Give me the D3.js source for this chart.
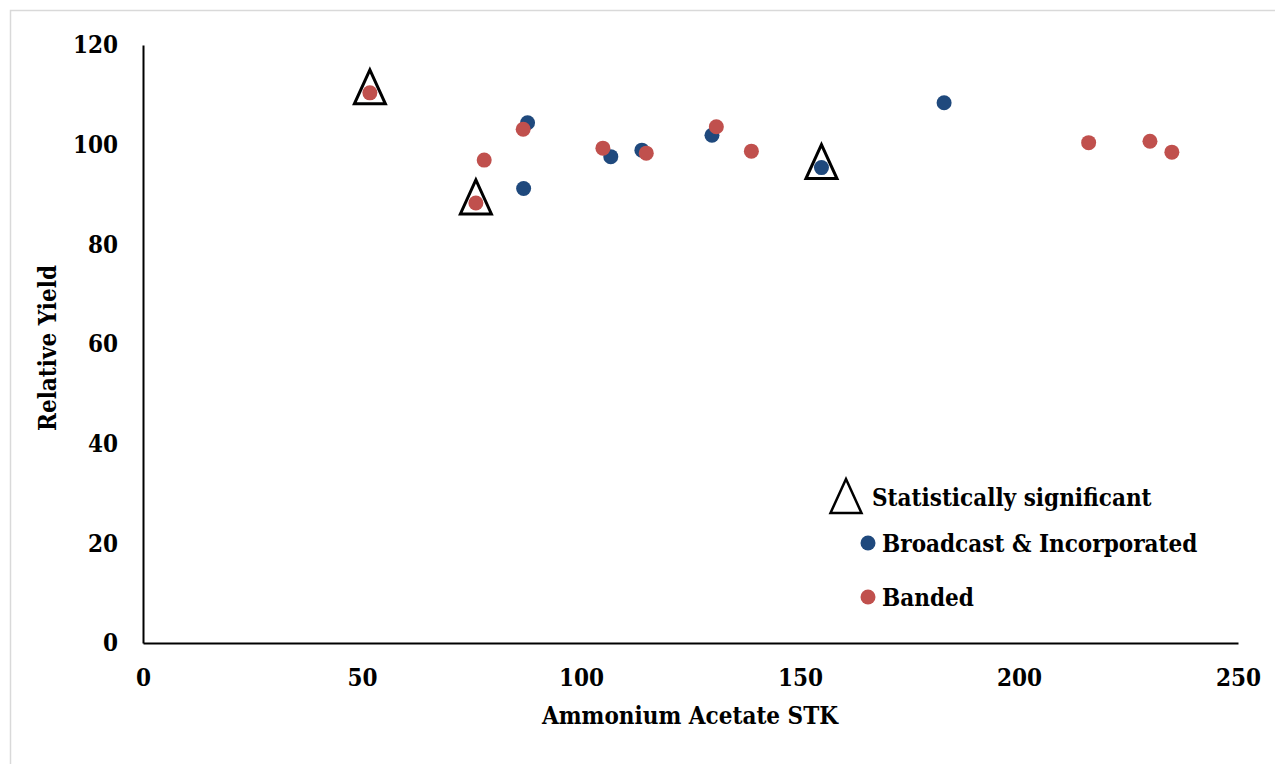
<!DOCTYPE html>
<html lang="en">
<head>
<meta charset="UTF-8">
<title>Relative Yield vs Ammonium Acetate STK</title>
<script src="https://d3js.org/d3.v7.min.js"></script>
<style>
  body { margin: 0; background: #fff; }
  svg { display: block; }
  text { font-family: "DejaVu Serif Condensed", "DejaVu Serif", serif; font-weight: bold; fill: #000; }
</style>
</head>
<body>
<script>
// Broadcast & Incorporated (STK, relative yield)
const broadcastX = [87.8, 86.9, 106.8, 113.9, 129.9, 154.9, 182.9];
const broadcastY = [104.4, 91.2, 97.6, 98.9, 101.9, 95.4, 108.4];
// Banded
const bandedX = [51.8, 76.0, 77.9, 86.8, 105.0, 114.9, 130.9, 138.9, 215.9, 229.9, 234.9];
const bandedY = [110.4, 88.3, 96.9, 103.1, 99.3, 98.3, 103.6, 98.7, 100.4, 100.7, 98.5];
// statistically significant sites
const sigX = [51.8, 76.0, 154.9];
const sigY = [110.4, 88.3, 95.4];

const xTicks = [0, 50, 100, 150, 200, 250];
const yTicks = [0, 20, 40, 60, 80, 100, 120];

const width = 1275, height = 764;
const blue = "#1f497d", red = "#c0504d";
const fs = 24;

const svg = d3.select("body").append("svg")
  .attr("width", width)
  .attr("height", height);

// chart frame
svg.append("rect")
  .attr("x", 10.5).attr("y", 10.5)
  .attr("width", width + 20).attr("height", height + 20)
  .attr("fill", "#fff").attr("stroke", "#d9d9d9").attr("stroke-width", 1.5);

const x = d3.scaleLinear().domain([0, 250]).range([143, 1238]);
const y = d3.scaleLinear().domain([0, 120]).range([643, 45]);

// axes
const xAxis = svg.append("g").attr("transform", `translate(0,${y(0)})`)
  .call(d3.axisBottom(x).tickValues(xTicks).tickSize(0).tickPadding(26));
const yAxis = svg.append("g").attr("transform", `translate(${x(0)},0)`)
  .call(d3.axisLeft(y).tickValues(yTicks).tickSize(0).tickPadding(25));

[xAxis, yAxis].forEach(a => {
  a.select(".domain").attr("stroke", "#000").attr("stroke-width", 2);
  a.selectAll("text").attr("font-size", fs).attr("font-family", null);
});

// axis titles
svg.append("text")
  .attr("x", 690).attr("y", 724)
  .attr("text-anchor", "middle").attr("font-size", fs)
  .text("Ammonium Acetate STK");
svg.append("text")
  .attr("transform", "translate(56,348) rotate(-90)")
  .attr("text-anchor", "middle").attr("font-size", fs)
  .text("Relative Yield");

// triangle marker shape
const tri = (cx, cy) => {
  const w = 31, h = 34;
  return `M${cx},${cy - h / 2}L${cx + w / 2},${cy + h / 2}L${cx - w / 2},${cy + h / 2}Z`;
};

svg.append("g").selectAll("path")
  .data(sigX.map((v, i) => [v, sigY[i]]))
  .join("path")
  .attr("d", d => tri(x(d[0]), y(d[1]) - 6))
  .attr("fill", "none").attr("stroke", "#000").attr("stroke-width", 3);

svg.append("g").selectAll("circle")
  .data(broadcastX.map((v, i) => [v, broadcastY[i]]))
  .join("circle")
  .attr("cx", d => x(d[0])).attr("cy", d => y(d[1]))
  .attr("r", 7.5).attr("fill", blue);

svg.append("g").selectAll("circle")
  .data(bandedX.map((v, i) => [v, bandedY[i]]))
  .join("circle")
  .attr("cx", d => x(d[0])).attr("cy", d => y(d[1]))
  .attr("r", 7.5).attr("fill", red);

// legend
const lg = svg.append("g");
lg.append("path").attr("d", tri(846, 496))
  .attr("fill", "none").attr("stroke", "#000").attr("stroke-width", 2.5);
lg.append("text").attr("x", 872).attr("y", 506).attr("font-size", fs).text("Statistically significant");
lg.append("circle").attr("cx", 868).attr("cy", 543).attr("r", 7.5).attr("fill", blue);
lg.append("text").attr("x", 882).attr("y", 552).attr("font-size", fs).text("Broadcast & Incorporated");
lg.append("circle").attr("cx", 868).attr("cy", 597).attr("r", 7.5).attr("fill", red);
lg.append("text").attr("x", 882).attr("y", 606).attr("font-size", fs).text("Banded");
</script>
</body>
</html>
